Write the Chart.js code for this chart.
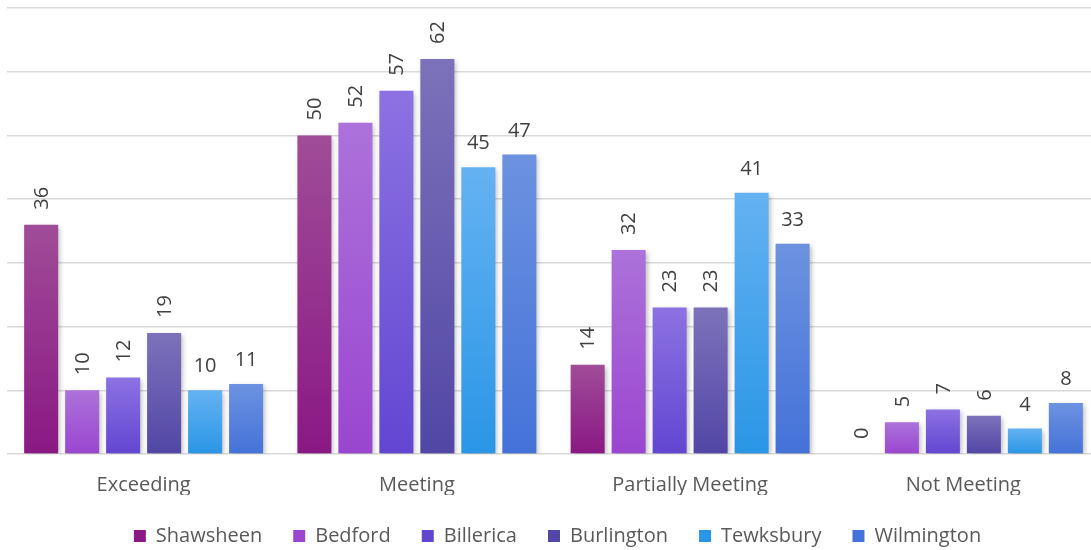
<!DOCTYPE html>
<html>
<head>
<meta charset="utf-8">
<title>Performance levels by district</title>
<script src="https://cdn.jsdelivr.net/npm/chart.js@4.4.1/dist/chart.umd.min.js"></script>
<style>
    html, body { margin: 0; padding: 0; background: #ffffff; overflow: hidden; }
    #chart { display: block; }
</style>
</head>
<body>
<!-- plot runs a few pixels past the right edge of the window, as in the source -->
<canvas id="chart" width="1100" height="550"></canvas>
<script>
// Chart data
const categories = ['Exceeding', 'Meeting', 'Partially Meeting', 'Not Meeting'];
const seriesNames = ['Shawsheen', 'Bedford', 'Billerica', 'Burlington', 'Tewksbury', 'Wilmington'];
const shawsheen = [36, 50, 14, 0];
const bedford = [10, 52, 32, 5];
const billerica = [12, 57, 23, 7];
const burlington = [19, 62, 23, 6];
const tewksbury = [10, 45, 41, 4];
const wilmington = [11, 47, 33, 8];
const yTicks = [0, 10, 20, 30, 40, 50, 60, 70];

// Styles: [top of bar, bottom of bar, legend swatch]
const seriesColors = [
    ['#a04c98', '#8a1884', '#982a90'],
    ['#ac72da', '#9a46d0', '#a45ad6'],
    ['#8c72e2', '#6246d2', '#7258da'],
    ['#7c72ba', '#5246a6', '#6458b0'],
    ['#64b2f2', '#2a96e6', '#44a6f0'],
    ['#6c92e0', '#4472d8', '#5a82de']
];
// Excel put some labels upright and some rotated
const rotatedLabels = [true, true, true, true, false, false];

const allSeries = [shawsheen, bedford, billerica, burlington, tewksbury, wilmington];

/**
 * Vertical gradient for each bar, from its own top down to zero
 */
function barFill(colors) {
    return function(context) {
        if (context.type !== 'data') return colors[2];
        const chart = context.chart;
        const yScale = chart.scales.y;
        if (!yScale) return colors[1];
        const top = yScale.getPixelForValue(context.parsed.y);
        const bottom = yScale.getPixelForValue(0);
        if (!isFinite(top) || !isFinite(bottom) || top === bottom) return colors[1];
        const gradient = chart.ctx.createLinearGradient(0, top, 0, bottom);
        gradient.addColorStop(0, colors[0]);
        gradient.addColorStop(1, colors[1]);
        return gradient;
    };
}

// Soft drop shadow behind the bars
const shadowPlugin = {
    id: 'barShadow',
    beforeDatasetsDraw(chart) {
        const ctx = chart.ctx;
        ctx.save();
        ctx.shadowColor = 'rgba(0, 0, 0, 0.28)';
        ctx.shadowBlur = 5;
        ctx.shadowOffsetX = 2;
        ctx.shadowOffsetY = 2;
    },
    afterDatasetsDraw(chart) {
        chart.ctx.restore();
    }
};

// Value labels above each bar
const labelPlugin = {
    id: 'barLabels',
    afterDatasetsDraw(chart) {
        const ctx = chart.ctx;
        ctx.save();
        ctx.font = '20px "Open Sans"';
        ctx.fillStyle = '#404040';
        chart.data.datasets.forEach((dataset, i) => {
            const meta = chart.getDatasetMeta(i);
            meta.data.forEach((bar, j) => {
                const text = String(dataset.data[j]);
                if (rotatedLabels[i]) {
                    ctx.save();
                    ctx.translate(bar.x + 1, bar.y - 15);
                    ctx.rotate(-Math.PI / 2);
                    ctx.textAlign = 'left';
                    ctx.textBaseline = 'middle';
                    ctx.fillText(text, 0, 0);
                    ctx.restore();
                } else {
                    ctx.textAlign = 'center';
                    ctx.textBaseline = 'alphabetic';
                    ctx.fillText(text, bar.x, bar.y - 18);
                }
            });
        });
        ctx.restore();
    }
};

// Legend row counts a trailing gap, so nudge it back to the centre
const legendShift = {
    id: 'legendShift',
    afterLayout(chart) {
        if (chart.legend) {
            chart.legend.left += 4;
            chart.legend.right += 4;
        }
    }
};

Chart.defaults.font.family = '"Open Sans", sans-serif';
Chart.defaults.color = '#595959';

const datasets = seriesNames.map((name, i) => ({
    label: name,
    data: allSeries[i],
    backgroundColor: barFill(seriesColors[i]),
    borderWidth: 0,
    categoryPercentage: 0.9,
    barPercentage: 0.83
}));

new Chart(document.getElementById('chart'), {
    type: 'bar',
    data: {
        labels: categories,
        datasets: datasets
    },
    options: {
        responsive: false,
        animation: false,
        layout: {
            padding: { left: 7, right: 0, top: 8, bottom: -6 }
        },
        plugins: {
            tooltip: { enabled: false },
            legend: {
                position: 'bottom',
                labels: {
                    boxWidth: 12,
                    boxHeight: 12,
                    padding: 31,
                    color: '#595959',
                    font: { size: 20 }
                }
            }
        },
        scales: {
            x: {
                grid: { display: false },
                border: { display: false },
                afterFit: (axis) => {
                    axis.height = 41;
                },
                ticks: {
                    padding: 11,
                    color: '#595959',
                    font: { size: 20 }
                }
            },
            y: {
                min: yTicks[0],
                max: yTicks[yTicks.length - 1],
                afterBuildTicks: (axis) => {
                    axis.ticks = yTicks.map(v => ({ value: v }));
                },
                border: { display: false },
                grid: {
                    color: '#d9d9d9',
                    lineWidth: 1.5,
                    drawTicks: false
                },
                ticks: { display: false }
            }
        }
    },
    plugins: [shadowPlugin, labelPlugin, legendShift]
});
</script>
</body>
</html>
